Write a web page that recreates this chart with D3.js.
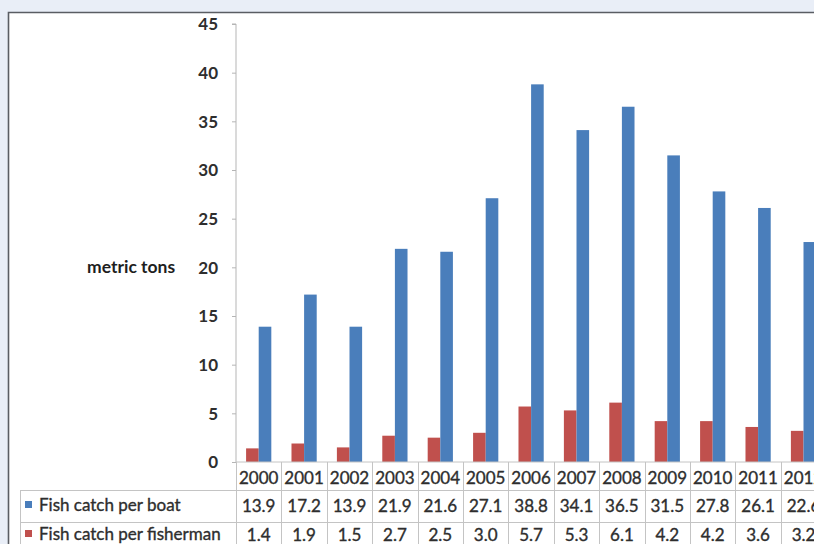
<!DOCTYPE html>
<html>
<head>
<meta charset="utf-8">
<script src="https://cdn.jsdelivr.net/npm/d3@7"></script>
<style>
  html, body { margin: 0; padding: 0; background: #e9eef7; }
  svg { display: block; font-family: Lato, "Open Sans", sans-serif; }
</style>
</head>
<body>
<svg id="chart" width="814" height="544"></svg>
<script>
// Fish catch, metric tons
const years = ["2000","2001","2002","2003","2004","2005","2006","2007","2008","2009","2010","2011","2012"];
const catchPerBoat = [13.9, 17.2, 13.9, 21.9, 21.6, 27.1, 38.8, 34.1, 36.5, 31.5, 27.8, 26.1, 22.6];
const catchPerFisherman = [1.4, 1.9, 1.5, 2.7, 2.5, 3.0, 5.7, 5.3, 6.1, 4.2, 4.2, 3.6, 3.2];
const seriesNames = ["Fish catch per boat", "Fish catch per fisherman"];
const yTicks = [0, 5, 10, 15, 20, 25, 30, 35, 40, 45];

const colors = { boat: "#4a7ebb", fisherman: "#c0504d" };
const ink = "#2e2e2e";

const svg = d3.select("#chart");

// white chart panel with dark top/left edge
svg.append("rect").attr("x", 8).attr("y", 12).attr("width", 820).attr("height", 540)
  .attr("fill", "#ffffff");
svg.append("path").attr("d", "M8.5,552 V12.5 H820")
  .attr("fill", "none").attr("stroke", "#5a5d63").attr("stroke-width", 1.6);

const plotLeft = 236, plotTop = 24, plotBottom = 462, step = 45.4;

const x0 = d3.scaleBand().domain(years)
  .range([plotLeft, plotLeft + step * years.length]).padding(0);
const x1 = d3.scaleBand().domain(["fisherman", "boat"])
  .range([0, x0.bandwidth()]).paddingInner(0).paddingOuter(0.8);
const y = d3.scaleLinear().domain([0, 45]).range([plotBottom, plotTop]);

// y axis
const yAxis = d3.axisLeft(y).tickValues(yTicks).tickSize(4).tickPadding(14);
const gy = svg.append("g").attr("transform", `translate(${plotLeft},0)`).call(yAxis);
gy.select(".domain").attr("stroke", "#b5b5b5").attr("d", `M-4,${plotTop}H0V${plotBottom}`);
gy.selectAll(".tick line").attr("stroke", "#b5b5b5");
gy.selectAll(".tick text").attr("fill", ink).attr("font-size", 17).attr("font-weight", 700)
  .attr("font-family", "Lato, sans-serif").attr("dy", "0.34em");

svg.append("text").attr("x", 87).attr("y", 273).attr("font-size", 17.5)
  .attr("font-weight", 700).attr("fill", "#1e1e1e").text("metric tons");

// bars
const rows = years.map((yr, i) => ({ year: yr, boat: catchPerBoat[i], fisherman: catchPerFisherman[i] }));
const groups = svg.append("g").selectAll("g").data(rows).join("g")
  .attr("transform", d => `translate(${x0(d.year)},0)`);
groups.selectAll("rect")
  .data(d => ["fisherman", "boat"].map(k => ({ key: k, value: d[k] })))
  .join("rect")
  .attr("x", d => x1(d.key))
  .attr("width", x1.bandwidth())
  .attr("y", d => y(d.value))
  .attr("height", d => y(0) - y(d.value))
  .attr("fill", d => colors[d.key]);

// data table
const grid = "#c4c4c4";
const tableRight = 830;
const rowLines = [490, 522];
const tableBottom = 560;
const g = svg.append("g");
g.append("line").attr("x1", plotLeft).attr("x2", tableRight).attr("y1", plotBottom).attr("y2", plotBottom)
  .attr("stroke", grid);
rowLines.forEach(yy => g.append("line").attr("x1", 20).attr("x2", tableRight)
  .attr("y1", yy + 0.5).attr("y2", yy + 0.5).attr("stroke", grid));
g.append("line").attr("x1", 20.5).attr("x2", 20.5).attr("y1", rowLines[0]).attr("y2", tableBottom)
  .attr("stroke", grid);
years.forEach(yr => {
  const xx = Math.round(x0(yr)) + 0.5;
  g.append("line").attr("x1", xx).attr("x2", xx).attr("y1", plotBottom).attr("y2", tableBottom)
    .attr("stroke", grid);
});

const cellText = (xx, yy, t) => g.append("text").attr("x", xx).attr("y", yy)
  .attr("text-anchor", "middle").attr("font-size", 17).attr("fill", ink)
  .attr("stroke", ink).attr("stroke-width", 0.35).text(t);
years.forEach((yr, i) => {
  const cx = x0(yr) + x0.bandwidth() / 2;
  cellText(cx, 484, yr);
  cellText(cx, 512, catchPerBoat[i].toFixed(1));
  cellText(cx, 541, catchPerFisherman[i].toFixed(1));
});

// legend keys inside the table
[["boat", 505], ["fisherman", 534]].forEach(([k, yy], i) => {
  g.append("rect").attr("x", 25).attr("y", yy - 4).attr("width", 7).attr("height", 7)
    .attr("fill", colors[k]);
  g.append("text").attr("x", 39).attr("y", yy + 6).attr("font-size", 17)
    .attr("fill", ink).attr("stroke", ink).attr("stroke-width", 0.35).text(seriesNames[i]);
});
</script>
</body>
</html>
